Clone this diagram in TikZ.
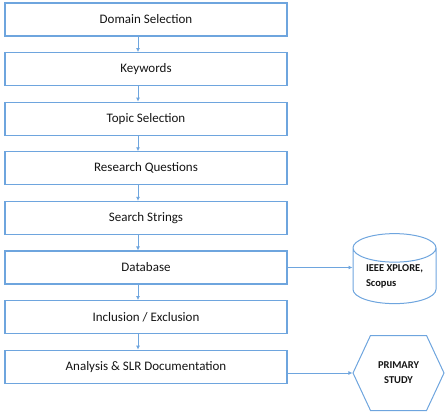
\documentclass[tikz,border=0pt]{standalone}
\usepackage{fontspec}
\setmainfont{Carlito}
\usetikzlibrary{shapes.geometric,shapes.symbols,arrows.meta}
\definecolor{bord}{RGB}{110,165,222}
\definecolor{txt}{RGB}{20,20,20}
\begin{document}
\begin{tikzpicture}[x=1pt,y=-1pt,
  stepbox/.style={draw=bord,line width=1.1pt,minimum width=282pt,minimum height=33pt,
    inner sep=0pt,text=txt,font=\fontsize{13}{16}\selectfont},
  arr/.style={draw=bord,line width=0.9pt,-{Latex[length=4pt,width=4pt]}},
  small/.style={text=txt,font=\fontsize{10.5}{15}\selectfont\bfseries}]
\useasboundingbox (0,0) rectangle (446,417);
\node[stepbox] (b1) at (146,19.5) {Domain Selection};
\node[stepbox] (b2) at (146,69.1) {Keywords};
\node[stepbox] (b3) at (146,118.7) {Topic Selection};
\node[stepbox] (b4) at (146,168.3) {Research Questions};
\node[stepbox] (b5) at (146,217.9) {Search Strings};
\node[stepbox] (b6) at (146,267.5) {Database};
\node[stepbox] (b7) at (146,317.1) {Inclusion / Exclusion};
\node[stepbox] (b8) at (146,366.7) {Analysis \& SLR Documentation};
\foreach \a/\b in {b1/b2,b2/b3,b3/b4,b4/b5,b5/b6,b6/b7,b7/b8}
  \draw[arr] ([xshift=-8pt]\a.south) -- ([xshift=-8pt]\b.north);
\node[draw=bord,line width=1pt,shape=cylinder,shape border rotate=90,aspect=0.5,
  minimum width=83pt,minimum height=70pt,inner sep=0pt,small,align=left] (db) at (394.5,276)
  {IEEE XPLORE,\\Scopus};
\node[draw=bord,line width=1pt,shape=signal,signal to=west and east,signal pointer angle=130,
  minimum width=91pt,minimum height=75pt,inner sep=0pt,small,align=center] (hex) at (398.5,373)
  {PRIMARY\\STUDY};
\draw[arr] (b6.east) -- (b6.east -| db.west);
\draw[arr] (hex.west -| b8.east) -- (hex.west);
\end{tikzpicture}
\end{document}
